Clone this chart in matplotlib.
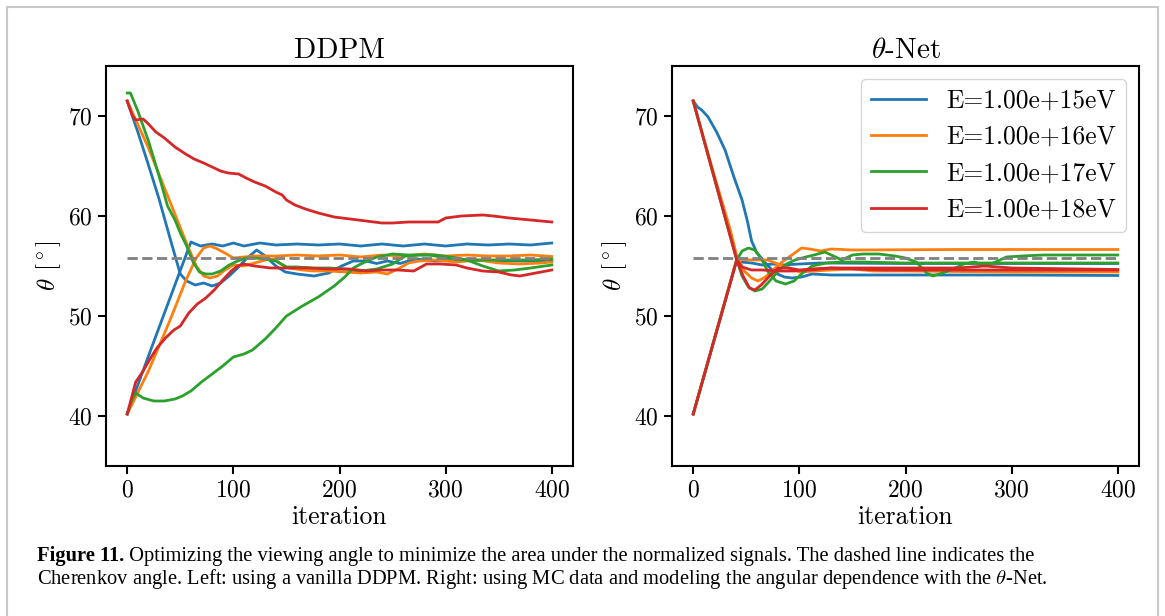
import matplotlib
matplotlib.use("Agg")
from matplotlib import pyplot as plt
from matplotlib.patches import Rectangle

# --- data -------------------------------------------------------------------
energies = ["1.00e+15", "1.00e+16", "1.00e+17", "1.00e+18"]
colors = ["C0", "C1", "C2", "C3"]
cherenkov = 55.8

# DDPM panel: each energy has a run started high and one started low
ddpm_blue_hi_x = [0, 10, 20, 30, 40, 50, 56, 64, 72, 80, 88, 96, 104, 112, 122, 130, 140, 149, 160, 176, 190, 202, 213, 225, 235, 245, 257, 265, 273, 290, 320, 350, 380, 400]
ddpm_blue_hi_y = [71.5, 68.4, 65.1, 61.7, 57.9, 54.2, 53.5, 53.1, 53.3, 53.0, 53.3, 54.0, 54.8, 55.7, 56.6, 56.0, 55.0, 54.4, 54.2, 54.0, 54.3, 55.0, 55.5, 55.5, 55.25, 55.5, 55.25, 55.5, 55.7, 55.5, 55.6, 55.5, 55.5, 55.5]
ddpm_blue_lo_x = [0, 20, 40, 60, 69, 80, 90, 100, 110, 125, 140, 160, 180, 200, 220, 240, 260, 280, 300, 320, 340, 360, 380, 400]
ddpm_blue_lo_y = [40.2, 46.0, 51.7, 57.4, 57.0, 57.2, 57.0, 57.3, 57.0, 57.3, 57.1, 57.2, 57.1, 57.2, 57.0, 57.2, 57.0, 57.2, 57.0, 57.2, 57.1, 57.2, 57.1, 57.3]
ddpm_orange_hi_x = [0, 20, 40, 55, 65, 72, 78, 85, 92, 100, 110, 120, 130, 138, 145, 152, 165, 176, 190, 205, 220, 235, 245, 255, 265, 275, 290, 310, 330, 350, 370, 390, 400]
ddpm_orange_hi_y = [71.5, 66.8, 61.5, 57.5, 55.0, 54.0, 53.8, 54.0, 54.6, 55.1, 55.0, 55.3, 55.6, 55.7, 55.2, 54.8, 54.6, 54.5, 54.5, 54.4, 54.3, 54.4, 54.2, 54.7, 55.3, 55.5, 55.6, 55.4, 55.6, 55.3, 55.2, 55.3, 55.4]
ddpm_orange_lo_x = [0, 20, 40, 55, 65, 72, 78, 85, 92, 100, 110, 120, 140, 160, 180, 200, 220, 240, 260, 280, 300, 320, 340, 360, 380, 400]
ddpm_orange_lo_y = [40.2, 44.5, 49.5, 53.5, 55.8, 56.8, 57.0, 56.7, 56.3, 55.8, 55.9, 56.0, 56.0, 56.1, 56.0, 56.1, 55.9, 56.1, 56.0, 56.2, 56.0, 56.1, 56.0, 56.0, 56.1, 55.95]
ddpm_green_hi_x = [0, 3, 10, 20, 30, 38, 45, 50, 56, 62, 68, 74, 80, 88, 96, 104, 112, 120, 130, 140, 150, 160, 175, 190, 205, 220, 235, 250, 262, 275, 290, 305, 320, 335, 350, 365, 380, 400]
ddpm_green_hi_y = [72.3, 72.3, 70.5, 67.5, 64.0, 61.0, 59.6, 58.3, 57.0, 55.4, 54.4, 54.2, 54.2, 54.5, 55.1, 55.5, 55.8, 55.8, 55.7, 55.5, 54.9, 54.9, 54.8, 54.8, 54.7, 54.5, 54.7, 55.2, 56.0, 56.1, 56.1, 55.9, 55.6, 55.0, 54.5, 54.6, 54.8, 55.1]
ddpm_green_lo_x = [0, 4, 8, 15, 25, 35, 45, 52, 60, 70, 80, 90, 100, 110, 118, 130, 140, 150, 165, 180, 195, 205, 213, 222, 235, 250, 265, 285, 300, 320, 340, 360, 380, 400]
ddpm_green_lo_y = [40.2, 41.5, 42.3, 41.8, 41.5, 41.5, 41.7, 42.0, 42.5, 43.4, 44.2, 45.0, 45.9, 46.2, 46.6, 47.7, 48.8, 50.0, 51.0, 51.9, 53.0, 53.9, 54.8, 55.3, 55.9, 56.2, 56.1, 56.1, 55.8, 55.6, 55.6, 55.6, 55.6, 55.7]
ddpm_red_hi_x = [0, 5, 8, 15, 20, 27, 35, 45, 55, 63, 72, 80, 88, 95, 105, 112, 120, 130, 140, 146, 150, 158, 168, 180, 195, 210, 225, 240, 250, 265, 280, 293, 300, 315, 335, 345, 360, 380, 400]
ddpm_red_hi_y = [71.5, 70.0, 69.6, 69.7, 69.2, 68.4, 67.8, 66.9, 66.2, 65.7, 65.3, 64.9, 64.5, 64.3, 64.2, 63.8, 63.4, 63.0, 62.4, 62.1, 61.6, 61.1, 60.7, 60.3, 59.9, 59.7, 59.5, 59.3, 59.3, 59.4, 59.4, 59.4, 59.8, 60.0, 60.1, 60.0, 59.8, 59.6, 59.4]
ddpm_red_lo_x = [0, 8, 15, 22, 28, 36, 44, 50, 58, 66, 74, 82, 90, 98, 104, 110, 120, 135, 150, 170, 190, 210, 225, 240, 255, 270, 282, 295, 310, 320, 335, 350, 362, 370, 385, 400]
ddpm_red_lo_y = [40.2, 43.4, 44.5, 45.8, 46.8, 47.8, 48.6, 49.0, 50.3, 51.2, 51.8, 52.6, 53.6, 54.5, 55.0, 55.2, 55.0, 54.8, 54.8, 54.8, 54.7, 54.7, 54.5, 54.6, 54.6, 54.5, 55.2, 55.2, 55.1, 54.8, 54.5, 54.4, 54.1, 54.0, 54.3, 54.6]

# theta-Net panel
tnet_blue_hi_x = [0, 4, 8, 14, 22, 30, 38, 46, 51, 55, 60, 68, 77, 86, 93, 102, 112, 130, 200, 300, 400]
tnet_blue_hi_y = [71.5, 70.9, 70.6, 69.9, 68.4, 66.6, 64.0, 61.6, 59.5, 57.5, 56.3, 55.3, 54.3, 53.9, 53.8, 53.9, 54.2, 54.1, 54.1, 54.1, 54.05]
tnet_blue_lo_x = [0, 41, 45, 55, 65, 75, 85, 100, 120, 200, 300, 400]
tnet_blue_lo_y = [40.2, 55.6, 55.4, 55.3, 55.1, 55.2, 55.1, 55.2, 55.3, 55.25, 55.25, 55.25]
tnet_orange_hi_x = [0, 20, 35, 41, 48, 55, 61, 68, 75, 85, 93, 102, 110, 120, 130, 150, 250, 400]
tnet_orange_hi_y = [71.5, 64.0, 58.6, 56.0, 54.5, 53.8, 53.5, 53.9, 54.6, 55.5, 56.1, 56.8, 56.7, 56.5, 56.7, 56.6, 56.65, 56.65]
tnet_orange_lo_x = [0, 41, 55, 70, 85, 100, 115, 130, 150, 170, 200, 300, 400]
tnet_orange_lo_y = [40.2, 55.7, 55.6, 55.6, 55.0, 54.4, 54.5, 54.6, 54.7, 54.5, 54.5, 54.4, 54.4]
tnet_green_hi_x = [0, 41, 46, 52, 58, 65, 72, 80, 88, 96, 106, 114, 124, 132, 140, 150, 160, 175, 190, 200, 210, 220, 226, 235, 245, 255, 265, 275, 285, 295, 310, 330, 360, 400]
tnet_green_hi_y = [71.5, 55.6, 54.0, 52.9, 52.5, 52.7, 53.5, 54.5, 55.2, 55.6, 55.9, 56.1, 56.4, 56.0, 55.6, 56.1, 56.2, 56.2, 56.0, 55.8, 55.4, 54.3, 54.0, 54.3, 54.7, 55.2, 55.4, 55.0, 55.4, 55.9, 56.0, 56.1, 56.1, 56.1]
tnet_green_lo_x = [0, 41, 46, 52, 58, 64, 70, 78, 87, 95, 103, 112, 125, 140, 160, 200, 300, 400]
tnet_green_lo_y = [40.2, 55.6, 56.5, 56.8, 56.6, 55.8, 54.5, 53.5, 53.2, 53.5, 54.3, 55.0, 55.3, 55.4, 55.4, 55.3, 55.3, 55.3]
tnet_red_hi_x = [0, 41, 47, 53, 58, 64, 72, 80, 90, 100, 110, 130, 150, 180, 220, 400]
tnet_red_hi_y = [71.5, 55.6, 54.0, 52.8, 52.6, 53.1, 54.0, 54.8, 54.8, 54.6, 54.6, 54.8, 54.7, 54.6, 54.6, 54.6]
tnet_red_lo_x = [0, 41, 46, 55, 65, 80, 95, 110, 130, 160, 200, 250, 275, 300, 400]
tnet_red_lo_y = [40.2, 55.6, 54.9, 54.6, 54.6, 54.5, 54.5, 54.7, 54.8, 54.8, 54.8, 54.8, 55.0, 54.8, 54.65]

ddpm_runs = [
    (ddpm_blue_hi_x, ddpm_blue_hi_y, ddpm_blue_lo_x, ddpm_blue_lo_y),
    (ddpm_orange_hi_x, ddpm_orange_hi_y, ddpm_orange_lo_x, ddpm_orange_lo_y),
    (ddpm_green_hi_x, ddpm_green_hi_y, ddpm_green_lo_x, ddpm_green_lo_y),
    (ddpm_red_hi_x, ddpm_red_hi_y, ddpm_red_lo_x, ddpm_red_lo_y),
]
tnet_runs = [
    (tnet_blue_hi_x, tnet_blue_hi_y, tnet_blue_lo_x, tnet_blue_lo_y),
    (tnet_orange_hi_x, tnet_orange_hi_y, tnet_orange_lo_x, tnet_orange_lo_y),
    (tnet_green_hi_x, tnet_green_hi_y, tnet_green_lo_x, tnet_green_lo_y),
    (tnet_red_hi_x, tnet_red_hi_y, tnet_red_lo_x, tnet_red_lo_y),
]

caption_bold = "Figure 11."
caption_line1 = " Optimizing the viewing angle to minimize the area under the normalized signals. The dashed line indicates the"
caption_line2 = "Cherenkov angle. Left: using a vanilla DDPM. Right: using MC data and modeling the angular dependence with the $\\theta$-Net."

# --- style -------------------------------------------------------------------
plt.rcParams["font.family"] = "serif"
plt.rcParams["font.serif"] = ["cmr10"]
plt.rcParams["mathtext.fontset"] = "cm"
plt.rcParams["axes.formatter.use_mathtext"] = True
plt.rcParams["axes.unicode_minus"] = False


def draw_panel(ax, runs, title, legend=False):
    for (hx, hy, lx, ly), color, e in zip(runs, colors, energies):
        ax.plot(hx, hy, color=color, lw=2, label="E=%seV" % e)
        ax.plot(lx, ly, color=color, lw=2)
    ax.plot([0, 400], [cherenkov, cherenkov], "--", color="gray", lw=2)
    ax.set_xlim(-20, 420)
    ax.set_ylim(35, 75)
    ax.set_xticks([0, 100, 200, 300, 400])
    ax.set_yticks([40, 50, 60, 70])
    ax.tick_params(labelsize=17, width=1.5, length=6)
    for s in ax.spines.values():
        s.set_linewidth(1.5)
    ax.set_title(title, fontsize=21, pad=6)
    ax.set_xlabel("iteration", fontsize=18.5, labelpad=3)
    ax.set_ylabel(r"$\theta$ [$^\circ$]", fontsize=18, labelpad=4)
    if legend:
        ax.legend(loc="upper right", fontsize=18.4, handlelength=2.15,
                  handletextpad=0.8, borderpad=0.4, labelspacing=0.49)


fig = plt.figure(figsize=(11.65, 6.16), dpi=100)
ax1 = fig.add_axes([106 / 1165, 1 - 466 / 616, 467 / 1165, 400 / 616])
ax2 = fig.add_axes([672 / 1165, 1 - 466 / 616, 467 / 1165, 400 / 616])
draw_panel(ax1, ddpm_runs, "DDPM")
draw_panel(ax2, tnet_runs, r"$\theta$-Net", legend=True)

# page frame and caption
fig.patches.append(Rectangle((7 / 1165, -0.05), 1151 / 1165, 1.05 - 7 / 616,
                             transform=fig.transFigure, fill=False,
                             edgecolor="#c8c8c8", lw=1.5))
cap_font = dict(family="Liberation Serif", fontsize=14.8, va="baseline")
t = fig.text(37 / 1165, 1 - 561 / 616, caption_bold, fontweight="bold", **cap_font)
fig.canvas.draw()
bb = t.get_window_extent()
fig.text(bb.x1 / 1165, 1 - 561 / 616, caption_line1, **cap_font)
fig.text(37 / 1165, 1 - 584 / 616, caption_line2, **cap_font)

fig.savefig("out.png", dpi=100)
